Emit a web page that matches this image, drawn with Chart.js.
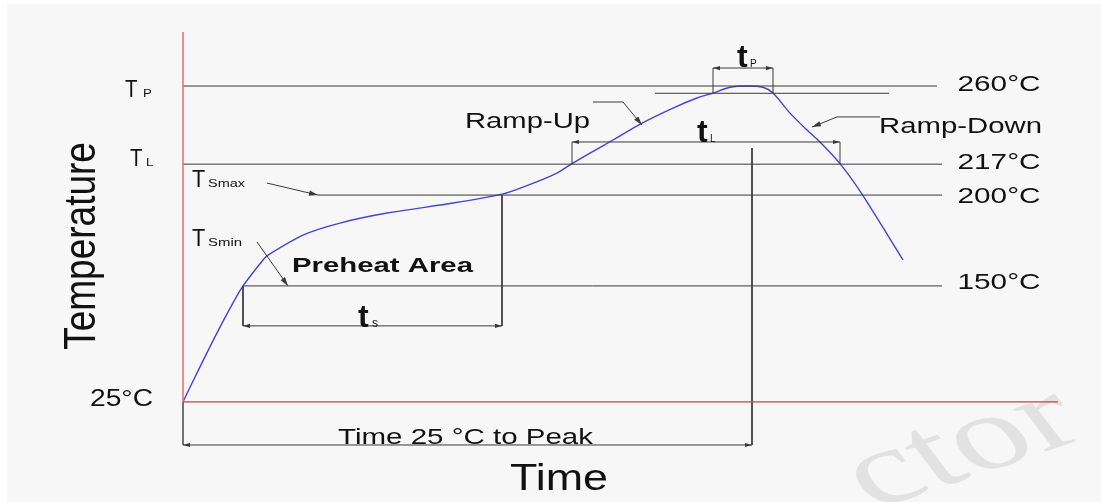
<!DOCTYPE html>
<html>
<head>
<meta charset="utf-8">
<title>Reflow profile</title>
<script src="https://cdn.jsdelivr.net/npm/chart.js@4.4.0/dist/chart.umd.min.js"></script>
<style>
  html, body { margin: 0; padding: 0; background: #fff; }
  canvas { display: block; }
</style>
</head>
<body>
<canvas id="profileChart" width="1101" height="502"></canvas>
<script>
// Solder reflow profile (time axis is schematic, no units)
const profileTime = [0, 6.8, 13.6, 20, 24, 32, 34, 48, 62.8, 81.6, 108, 127.6, 136, 149.6, 155.6, 162.8,
  172, 183.6, 196, 205.6, 212, 218.8, 225.6, 232, 236, 242.8, 249.6, 254.8, 262.8, 271.6, 288];
const profileTemp = [25, 62.7, 99.4, 131.7, 150, 164.3, 167, 178, 184.6, 190.1, 195.6, 200.5, 204.4, 212.1, 217.3, 223.1,
  230.3, 239.6, 247.9, 253.4, 256.1, 259.3, 260, 259.3, 256.1, 245.1, 235.8, 229.2, 217.3, 200.5, 164.3];

// reference temperatures and their labels
const levelTemps = [260, 217, 200, 150];
const levelLabels = ["260°C", "217°C", "200°C", "150°C"];
const baseTemp = 25;
const baseLabel = "25°C";
const tpTemp = 256; // tP reference line, just under the peak

// phase times
const tsStart = 24, tsEnd = 127.6;     // preheat (150 -> 200)
const tlStart = 155.6, tlEnd = 262.8;  // above liquidus
const tpStart = 212, tpEnd = 236;      // near the peak
const peakTime = 227.6;

const INK = "#3a3a3a";
const RED = "#d63a3a";
const BLUE = "#4343d6";
const TEXT = "#111";
const FONT = '"Liberation Sans", Arial, sans-serif';

// the drawing squeezes 25..150°C to about half scale (axis break)
const diagramY = (T) => (T >= 150 ? T : 150 - (150 - T) * 0.51);

// helper for a plain polyline dataset
const line = (pts, opts = {}) => ({
  data: pts.map(([t, T]) => ({ x: t, y: diagramY(T) })),
  showLine: true,
  pointRadius: 0,
  borderColor: INK,
  borderWidth: 1,
  clip: false,
  ...opts,
});

// dimension / leader line heights (in axis units)
const axisTop = 289.7;
const timeBracketT = -21.6;  // "Time 25°C to Peak" dimension line
const tsBracketT = 106.9;
const tlBracketT = 229.2;
const tpBracketT = 269.9;
const levelStart = [0, 0, 54, tsStart];
const levelEnd = [301.6, 303.6, 303.6, 303.6];
const dim = { arrowStart: true, arrowEnd: true, arrowSize: 7 };

const datasets = [
  line([[0, baseTemp], [0, axisTop]], { borderColor: "#f07070", borderWidth: 1.6 }),
  line([[0, baseTemp], [350, baseTemp]], { borderColor: RED, borderWidth: 1.2 }),
  line([[0, baseTemp], [0, timeBracketT]], { borderWidth: 1.4 }),
  ...levelTemps.map((T, i) => line([[levelStart[i], T], [levelEnd[i], T]])),
  line([[188.8, tpTemp], [282.4, tpTemp]]),
  // extension lines
  line([[tsStart, 150], [tsStart, tsBracketT]]),
  line([[tsEnd, 200], [tsEnd, tsBracketT]]),
  line([[peakTime, 225.9], [peakTime, timeBracketT]]),
  line([[tlStart, 217], [tlStart, tlBracketT]]),
  line([[tlEnd, 217], [tlEnd, tlBracketT]]),
  line([[tpStart, tpTemp], [tpStart, tpBracketT]]),
  line([[tpEnd, tpTemp], [tpEnd, tpBracketT]]),
  // dimension lines
  line([[tsStart, tsBracketT], [tsEnd, tsBracketT]], dim),
  line([[tlStart, tlBracketT], [tlEnd, tlBracketT]], dim),
  line([[tpStart, tpBracketT], [tpEnd, tpBracketT]], dim),
  line([[0, timeBracketT], [peakTime, timeBracketT]], dim),
  // leaders
  line([[33.6, 206.6], [54, 200]], { arrowEnd: true, arrowSize: 9 }),
  line([[29.6, 174.2], [42, 150]], { arrowEnd: true, arrowSize: 9 }),
  line([[164, 251.2], [176, 251.2], [183.6, 238.5]], { arrowEnd: true, arrowSize: 9 }),
  line([[278.8, 243], [261.6, 243], [251.6, 237.4]], { arrowEnd: true, arrowSize: 9 }),
  // the profile
  line(profileTime.map((t, i) => [t, profileTemp[i]]), {
    borderColor: BLUE,
    borderWidth: 1.4,
    tension: 0.25,
  }),
];

const labels = [
  { text: "T", t: -23.2, T: 253.9, size: 24, sx: 0.85 },
  { text: "P", t: -16, T: 253.9, size: 11, sx: 1.2 },
  { text: "T", t: -21.2, T: 216, size: 24, sx: 0.85 },
  { text: "L", t: -14.8, T: 216, size: 11, sx: 1.2 },
  { text: "T", t: 3.6, T: 204.4, size: 24, sx: 0.9 },
  { text: "Smax", t: 10, T: 204.4, size: 11, w: 37 },
  { text: "T", t: 3.6, T: 172, size: 24, sx: 0.9 },
  { text: "Smin", t: 10, T: 172, size: 11, w: 34 },
  { text: baseLabel, t: -37.2, T: baseTemp, dy: 4, size: 24, w: 63 },
  { text: "Temperature", t: -40, T: 172, size: 37, angle: -90, sx: 1.2, align: "center", baseline: "middle" },
  { text: "Time", t: 150.4, T: -70, size: 37, w: 98, align: "center" },
  { text: "Time 25 °C to Peak", t: 62, T: -20.4, size: 22, w: 255 },
  { text: "Preheat Area", t: 43.6, T: 157.7, size: 21, bold: true, w: 181 },
  { text: "t", t: 70, T: 105.7, size: 32, bold: true },
  { text: "s", t: 75.6, T: 105.7, size: 12 },
  { text: "t", t: 205.6, T: 229.2, size: 32, bold: true },
  { text: "L", t: 210.8, T: 229.2, size: 10 },
  { text: "t", t: 221.6, T: 270.5, size: 32, bold: true },
  { text: "P", t: 226.8, T: 270.5, size: 10 },
  { text: "Ramp-Up", t: 112.8, T: 236.9, size: 22, w: 125 },
  { text: "Ramp-Down", t: 278.4, T: 234.1, size: 22, w: 163 },
  ...levelLabels.map((text, i) => ({
    text, t: 309.8, T: levelTemps[i], dy: [5, 5, 8, 3][i], size: 22, w: 83,
  })),
  // watermark
  { text: "ctor", t: 276, T: -92, size: 104, angle: -27, sx: 1.5, color: "#e2e2e2", family: '"Liberation Serif", serif' },
];

const backgroundPlugin = {
  id: "backgroundPlugin",
  beforeDraw: (chart) => {
    const ctx = chart.ctx;
    ctx.save();
    ctx.fillStyle = "#fff";
    ctx.fillRect(0, 0, chart.width, chart.height);
    ctx.fillStyle = "#f7f7f7";
    ctx.fillRect(7, 4, chart.width - 7, chart.height - 4);
    ctx.restore();
  },
};

// arrow heads on the ends of dimension and leader lines
const arrowPlugin = {
  id: "arrowPlugin",
  afterDatasetsDraw: (chart) => {
    const ctx = chart.ctx;
    const head = (from, to, len, color) => {
      const angle = Math.atan2(to.y - from.y, to.x - from.x);
      ctx.save();
      ctx.translate(to.x, to.y);
      ctx.rotate(angle);
      ctx.beginPath();
      ctx.moveTo(0, 0);
      ctx.lineTo(-len, len * 0.3);
      ctx.lineTo(-len, -len * 0.3);
      ctx.closePath();
      ctx.fillStyle = color;
      ctx.fill();
      ctx.restore();
    };
    chart.data.datasets.forEach((ds, i) => {
      const pts = chart.getDatasetMeta(i).data;
      const n = pts.length;
      if (ds.arrowEnd) head(pts[n - 2], pts[n - 1], ds.arrowSize, ds.borderColor);
      if (ds.arrowStart) head(pts[1], pts[0], ds.arrowSize, ds.borderColor);
    });
  },
};

// texts, placed through the scales
const labelPlugin = {
  id: "labelPlugin",
  beforeDatasetsDraw: (chart) => drawLabels(chart, (L) => L.color),
  afterDraw: (chart) => drawLabels(chart, (L) => !L.color),
};

function drawLabels(chart, pick) {
  const ctx = chart.ctx;
  const xs = chart.scales.x, ys = chart.scales.y;
  labels.filter(pick).forEach((L) => {
    const x = xs.getPixelForValue(L.t);
    const y = ys.getPixelForValue(diagramY(L.T)) + (L.dy || 0);
    ctx.save();
    ctx.font = `${L.bold ? "bold " : ""}${L.size}px ${L.family || FONT}`;
    ctx.fillStyle = L.color || TEXT;
    ctx.textAlign = L.align || "left";
    ctx.textBaseline = L.baseline || "alphabetic";
    const sx = L.w ? L.w / ctx.measureText(L.text).width : L.sx || 1;
    ctx.translate(x, y);
    if (L.angle) {
      ctx.scale(L.sx || 1, 1);
      ctx.rotate((L.angle * Math.PI) / 180);
    } else {
      ctx.scale(sx, 1);
    }
    ctx.fillText(L.text, 0, 0);
    ctx.restore();
  });
}

new Chart(document.getElementById("profileChart"), {
  type: "scatter",
  data: { datasets },
  options: {
    responsive: false,
    animation: false,
    events: [],
    layout: { padding: { left: 183, right: 43, top: 31.5, bottom: 52.5 } },
    plugins: { legend: { display: false }, tooltip: { enabled: false } },
    scales: {
      x: { type: "linear", min: 0, max: 350, display: false },
      y: { type: "linear", min: 60, max: 290, display: false },
    },
  },
  plugins: [backgroundPlugin, arrowPlugin, labelPlugin],
});
</script>
</body>
</html>
